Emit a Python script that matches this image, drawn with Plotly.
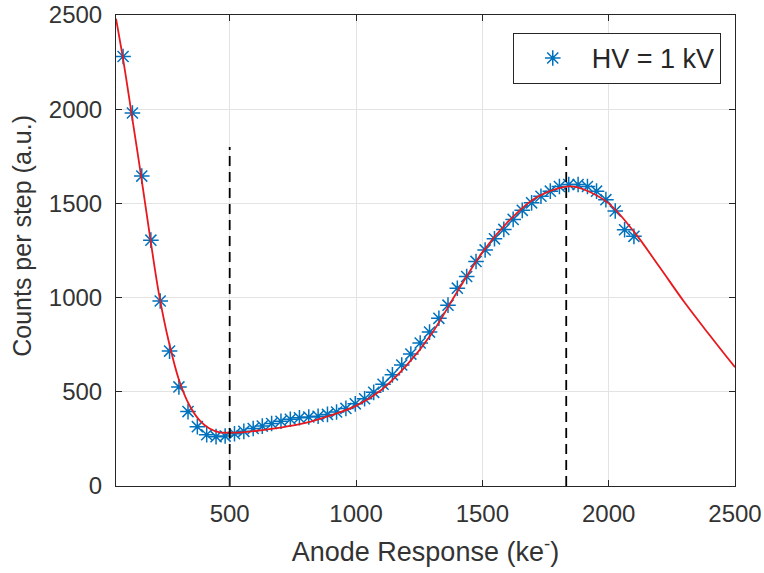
import plotly.graph_objects as go

# Measured points (HV = 1 kV)
x_pts = [78, 115, 152, 188, 225, 262, 299, 335, 372, 409, 446, 482, 519, 556,
         593, 629, 666, 703, 740, 776, 813, 850, 887, 923, 960, 997, 1034, 1070,
         1107, 1144, 1181, 1217, 1254, 1291, 1328, 1364, 1401, 1438, 1475, 1511,
         1548, 1585, 1622, 1658, 1695, 1732, 1769, 1805, 1842, 1879, 1916, 1952,
         1989, 2026, 2063, 2100]
y_pts = [2280, 1980, 1645, 1305, 982, 716, 526, 395, 315, 272, 262, 265, 277, 290,
         305, 318, 332, 344, 354, 362, 366, 370, 380, 393, 412, 436, 463, 497,
         540, 590, 642, 700, 759, 817, 890, 960, 1050, 1112, 1192, 1253,
         1312, 1362, 1415, 1463, 1503, 1538, 1565, 1590, 1600, 1600, 1590, 1565,
         1520, 1460, 1360, 1325]

# Fitted curve
x_fit = [50, 80, 110, 150, 185, 220, 260, 300, 340, 380, 420, 460, 500, 550, 600,
         700, 800, 900, 1000, 1100, 1200, 1300, 1400, 1500, 1600, 1700, 1800,
         1850, 1900, 2000, 2100, 2200, 2300, 2400, 2500]
y_fit = [2480, 2250, 1990, 1640, 1320, 1020, 760, 560, 430, 350, 305, 285, 283, 285,
         292, 310, 335, 375, 425, 510, 640, 810, 1030, 1240, 1400, 1520, 1580,
         1590, 1575, 1500, 1350, 1165, 975, 800, 630]

# Dashed marker lines
vline_x = [500, 1832]
vline_top = 1800

x_ticks = [500, 1000, 1500, 2000, 2500]
y_ticks = [0, 500, 1000, 1500, 2000, 2500]

fig = go.Figure()
fig.add_trace(go.Scatter(
    x=x_pts, y=y_pts, mode="markers", name="HV = 1 kV",
    marker=dict(symbol="asterisk-open", size=13, color="#0072BD",
                line=dict(color="#0072BD", width=1.5))))
fig.add_trace(go.Scatter(
    x=x_fit, y=y_fit, mode="lines", line=dict(color="#E8191E", width=1.8, shape="spline"),
    showlegend=False, hoverinfo="skip"))
vx, vy = [], []
for v in vline_x:
    vx += [v, v, None]
    vy += [0, vline_top, None]
fig.add_trace(go.Scatter(
    x=vx, y=vy, mode="lines", line=dict(color="#000000", width=1.8, dash="10px,6px"),
    showlegend=False, hoverinfo="skip"))

font_family = "Liberation Sans, Arial, sans-serif"
axis_common = dict(
    showline=True, linecolor="#262626", linewidth=1, mirror="ticks",
    ticks="inside", ticklen=6, tickcolor="#262626", automargin=False,
    showgrid=True, gridcolor="#E3E3E3", gridwidth=1, zeroline=False,
    tickfont=dict(family=font_family, size=24, color="#333333"),
)
fig.update_xaxes(range=[50, 2500], tickvals=x_ticks, ticklabelstandoff=6,
                 title=dict(text="Anode Response (ke<sup>-</sup>)", standoff=16,
                            font=dict(family=font_family, size=27, color="#333333")),
                 **axis_common)
fig.update_yaxes(range=[0, 2500], tickvals=y_ticks, ticklabelstandoff=8,
                 **axis_common)
fig.add_annotation(text="Counts per step (a.u.)", xref="paper", yref="paper",
                   x=-0.152, y=0.531, xanchor="center", yanchor="middle",
                   textangle=-90, showarrow=False,
                   font=dict(family=font_family, size=25, color="#333333"))
fig.update_layout(
    width=764, height=573,
    margin=dict(l=116, r=29, t=15, b=87),
    paper_bgcolor="white", plot_bgcolor="white",
    legend=dict(x=0.977, y=0.962, xanchor="right", yanchor="top",
                bgcolor="white", bordercolor="#262626", borderwidth=1,
                font=dict(family=font_family, size=27, color="#262626"),
                itemwidth=68),
)
fig.write_html("out.html")
